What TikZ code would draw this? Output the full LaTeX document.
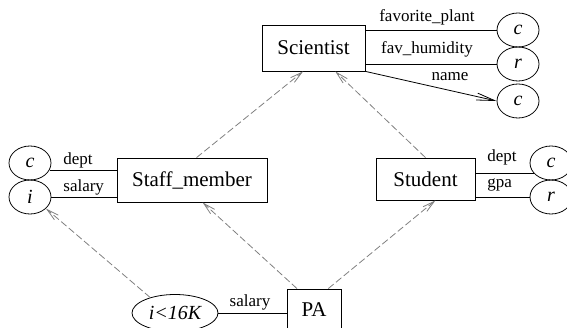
\documentclass[tikz,border=0pt]{standalone}
\usepackage{fontspec}
\setmainfont{Liberation Serif}
\usetikzlibrary{arrows.meta,calc,positioning,shapes.geometric}
\newcommand{\boxfont}{\fontsize{21}{24}\selectfont}
\newcommand{\lblfont}{\fontsize{17}{19}\selectfont}
\newcommand{\attfont}{\fontsize{20}{22}\selectfont\itshape}
\tikzset{
er/.style={x=1pt,y=-1pt,>={Straight Barb[length=12pt,width=6pt]},line width=0.8pt},
entity/.style={rectangle,draw,inner sep=0pt,font=\boxfont},
attr/.style={ellipse,draw,inner sep=0pt,minimum width=42pt,minimum height=34pt,font=\attfont},
isa/.style={->,gray,dash pattern=on 7pt off 3pt},
lbl/.style={inner sep=0pt,font=\lblfont},
}
\begin{document}
\begin{tikzpicture}[er]
\useasboundingbox (0,0) rectangle (567,328);
% entities
\node[entity,minimum width=103pt,minimum height=46pt] (sci) at (313.5,48) {Scientist};
\node[entity,minimum width=150pt,minimum height=44pt] (staff) at (192,180) {Staff\_member};
\node[entity,minimum width=99pt,minimum height=42pt] (stud) at (425.5,179) {Student};
\node[entity,minimum width=54pt,minimum height=42pt] (pa) at (314,310) {PA};
% attribute values
\node[attr] (plant) at (518,30) {c};
\node[attr] (humid) at (518,64) {r};
\node[attr] (nm) at (518,101) {c};
\node[attr] (sdept) at (30,163) {c};
\node[attr] (ssal) at (30,197) {i};
\node[attr] (tdept) at (551,163) {c};
\node[attr] (tgpa) at (551,197) {r};
\node[attr,minimum width=86pt,minimum height=37pt] (lim) at (175,313) {i<16K};
% attributes
\draw (plant.west) -- (plant.west -| sci.east);
\draw (humid.west) -- (humid.west -| sci.east);
\draw[->,>={Straight Barb[length=18pt,width=7pt]}] (sci.south east) -- (nm.west);
\draw (sdept.-20) -- (sdept.-20 -| staff.west);
\draw (ssal.east) -- (ssal.east -| staff.west);
\draw (tdept.212) -- (tdept.212 -| stud.east);
\draw (tgpa.west) -- (tgpa.west -| stud.east);
\draw (lim.east) -- (lim.east -| pa.west);
% isa links
\draw[isa] ($(staff.north west)!0.53!(staff.north east)$) -- ($(sci.south west)!0.4!(sci.south east)$);
\draw[isa] (stud.north) -- ($(sci.south west)!0.71!(sci.south east)$);
\draw[isa] ($(pa.north west)!0.19!(pa.north east)$) -- ($(staff.south west)!0.57!(staff.south east)$);
\draw[isa] ($(pa.north west)!0.76!(pa.north east)$) -- ($(stud.south west)!0.6!(stud.south east)$);
\draw[isa] (lim.148) -- (ssal.-36);
% labels
\node[lbl] (lplant) at (427,17) {favorite\_plant};
\node[lbl] (lhumid) at (427,49) {fav\_humidity};
\node[lbl] (lname) at (450,77) {name};
\node[lbl,anchor=west] (lsdept) at (63,160) {dept};
\node[lbl,anchor=west] (lssal) at (63,187) {salary};
\node[lbl,anchor=west] (ltdept) at (487,157) {dept};
\node[lbl,anchor=west] (ltgpa) at (487,185) {gpa};
\node[lbl] (lpsal) at (250,302) {salary};
\end{tikzpicture}
\end{document}
